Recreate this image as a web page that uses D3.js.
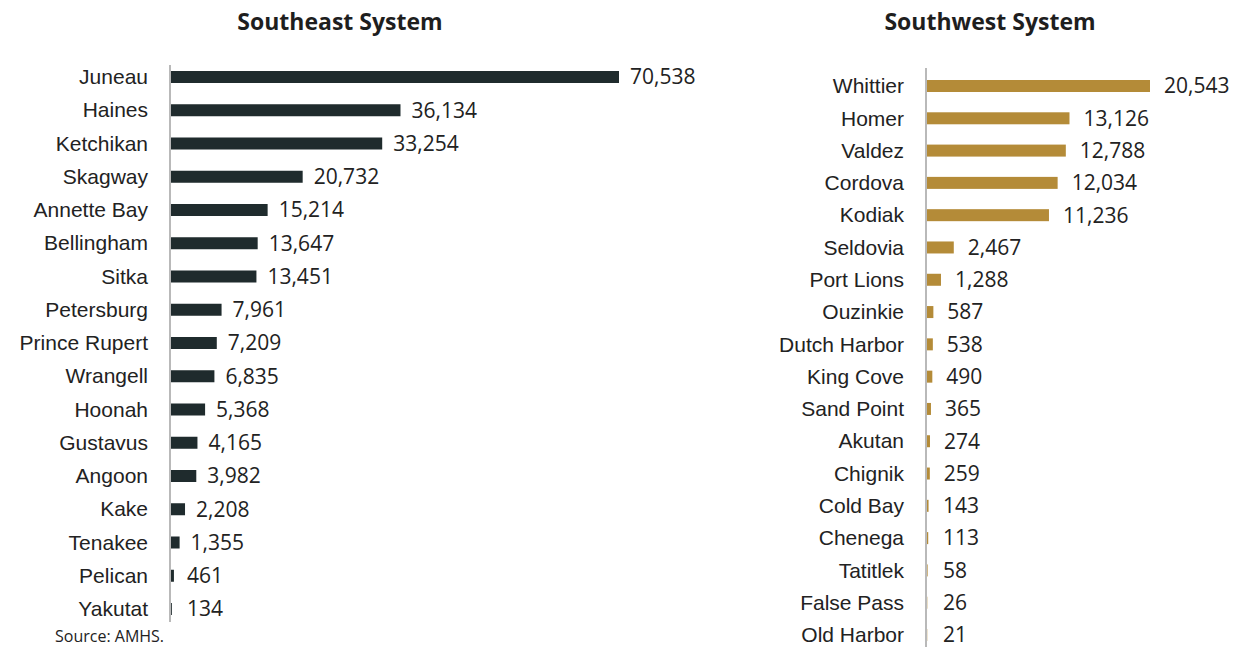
<!DOCTYPE html>
<html>
<head>
<meta charset="utf-8">
<script src="https://cdn.jsdelivr.net/npm/d3@7"></script>
<style>
  html, body { margin: 0; padding: 0; background: #fff; }
  svg { display: block; font-family: 'Open Sans', sans-serif; }
  .title { font-weight: bold; font-size: 23px; fill: #1e1e1e; }
  .label, .value { font-size: 21px; fill: #222; }
  .source { font-size: 16px; fill: #222; }
</style>
</head>
<body>
<div id="chart"></div>
<script>
// Southeast system ports and traffic
const southeastPorts = ['Juneau', 'Haines', 'Ketchikan', 'Skagway', 'Annette Bay', 'Bellingham',
  'Sitka', 'Petersburg', 'Prince Rupert', 'Wrangell', 'Hoonah', 'Gustavus', 'Angoon', 'Kake',
  'Tenakee', 'Pelican', 'Yakutat'];
const southeastValues = [70538, 36134, 33254, 20732, 15214, 13647, 13451, 7961, 7209, 6835,
  5368, 4165, 3982, 2208, 1355, 461, 134];

// Southwest system ports and traffic
const southwestPorts = ['Whittier', 'Homer', 'Valdez', 'Cordova', 'Kodiak', 'Seldovia',
  'Port Lions', 'Ouzinkie', 'Dutch Harbor', 'King Cove', 'Sand Point', 'Akutan', 'Chignik',
  'Cold Bay', 'Chenega', 'Tatitlek', 'False Pass', 'Old Harbor'];
const southwestValues = [20543, 13126, 12788, 12034, 11236, 2467, 1288, 587, 538, 490, 365,
  274, 259, 143, 113, 58, 26, 21];

const width = 1248;
const height = 647;
const fmt = d3.format(',');

const svg = d3.select('#chart')
  .append('svg')
  .attr('width', width)
  .attr('height', height);

// Draws one horizontal bar panel
function panel({ title, titleX, ports, values, axisX, xEnd, yTop, yBottom, lineTop, lineBottom, color, gap }) {
  const x = d3.scaleLinear()
    .domain([0, d3.max(values)])
    .range([axisX + 1, xEnd]);

  const y = d3.scalePoint()
    .domain(ports)
    .range([yTop, yBottom]);

  const data = ports.map((p, i) => ({ port: p, value: values[i] }));
  const g = svg.append('g');

  g.append('text')
    .attr('class', 'title')
    .attr('x', titleX)
    .attr('y', 30)
    .attr('text-anchor', 'middle')
    .text(title);

  g.selectAll('rect')
    .data(data)
    .join('rect')
    .attr('x', x(0))
    .attr('y', d => y(d.port) - 6)
    .attr('height', 12)
    .attr('width', d => x(d.value) - x(0))
    .attr('fill', color);

  // y axis: only the line and the category labels
  const yAxis = d3.axisLeft(y).tickSize(0).tickPadding(22);
  const ax = g.append('g')
    .attr('transform', `translate(${axisX},0)`)
    .call(yAxis);
  ax.select('.domain').remove();
  ax.selectAll('text')
    .attr('class', 'label')
    .attr('font-family', null)
    .attr('font-size', null)
    .attr('fill', null);

  g.append('line')
    .attr('x1', axisX).attr('x2', axisX)
    .attr('y1', lineTop).attr('y2', lineBottom)
    .attr('stroke', '#8a8a8a')
    .attr('stroke-width', 1.2);

  g.selectAll('.value')
    .data(data)
    .join('text')
    .attr('class', 'value')
    .attr('x', d => Math.max(x(d.value) + gap, axisX + 17))
    .attr('y', d => y(d.port))
    .attr('dy', '0.35em')
    .text(d => fmt(d.value));
}

panel({
  title: 'Southeast System', titleX: 340,
  ports: southeastPorts, values: southeastValues,
  axisX: 170, xEnd: 619, yTop: 77, yBottom: 609,
  lineTop: 65, lineBottom: 622, color: '#1f2b2d', gap: 11
});

panel({
  title: 'Southwest System', titleX: 990,
  ports: southwestPorts, values: southwestValues,
  axisX: 926, xEnd: 1150, yTop: 86, yBottom: 635,
  lineTop: 68, lineBottom: 647, color: '#b48b38', gap: 14
});

svg.append('text')
  .attr('class', 'source')
  .attr('x', 55)
  .attr('y', 642)
  .text('Source: AMHS.');
</script>
</body>
</html>
